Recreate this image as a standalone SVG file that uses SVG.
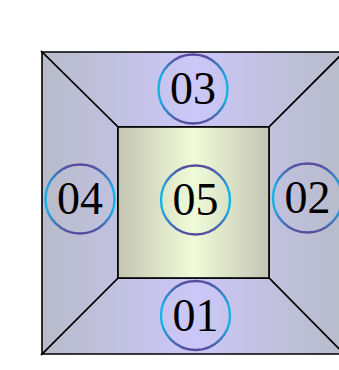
<svg xmlns="http://www.w3.org/2000/svg" width="339" height="370" viewBox="0 0 339 370">
<defs>
<linearGradient id="outerG" gradientUnits="userSpaceOnUse" x1="42" y1="0" x2="344" y2="0">
<stop offset="0" stop-color="#b8bbc9"/>
<stop offset="0.5" stop-color="#cbc7f8"/>
<stop offset="1" stop-color="#b8bbc9"/>
</linearGradient>
<linearGradient id="innerG" gradientUnits="userSpaceOnUse" x1="118" y1="0" x2="269" y2="0">
<stop offset="0" stop-color="#c4c5b3"/>
<stop offset="0.5" stop-color="#f0fbd7"/>
<stop offset="1" stop-color="#c4c5b3"/>
</linearGradient>
<linearGradient id="ringG" x1="0" y1="0" x2="0" y2="1">
<stop offset="0" stop-color="#5b4a9c"/>
<stop offset="0.35" stop-color="#17b1e6"/>
<stop offset="0.65" stop-color="#17b1e6"/>
<stop offset="1" stop-color="#5b4a9c"/>
</linearGradient>
</defs>
<style>
.panel{fill:url(#outerG);stroke:#000;stroke-width:1.6;stroke-linejoin:miter}
.center{fill:url(#innerG);stroke:#000;stroke-width:1.6}
.ring{fill:none;stroke:url(#ringG);stroke-width:2.4}
.lbl{font-family:"Liberation Serif","Times New Roman",serif;font-size:46px;fill:#000;text-anchor:middle}
</style>
<g id="panels">
<g id="panel-top"><polygon class="panel" points="42,52 344,52 269,127 118,127"/></g>
<g id="panel-right"><polygon class="panel" points="344,52 344,354 269,278 269,127"/></g>
<g id="panel-bottom"><polygon class="panel" points="42,354 344,354 269,278 118,278"/></g>
<g id="panel-left"><polygon class="panel" points="42,52 118,127 118,278 42,354"/></g>
<g id="panel-center"><rect class="center" x="118" y="127" width="151" height="151"/></g>
</g>
<g id="connectors"></g>
<g id="n03"><circle class="ring" cx="193" cy="89" r="34.5"/><text class="lbl" x="193" y="104">03</text></g>
<g id="n04"><circle class="ring" cx="80" cy="199" r="34.5"/><text class="lbl" x="80" y="214">04</text></g>
<g id="n05"><circle class="ring" cx="195.5" cy="200" r="34.5"/><text class="lbl" x="195.5" y="215">05</text></g>
<g id="n02"><circle class="ring" cx="307.5" cy="198" r="34.5"/><text class="lbl" x="307.5" y="213">02</text></g>
<g id="n01"><circle class="ring" cx="195.5" cy="315.5" r="34.5"/><text class="lbl" x="195.5" y="330.5">01</text></g>
</svg>
